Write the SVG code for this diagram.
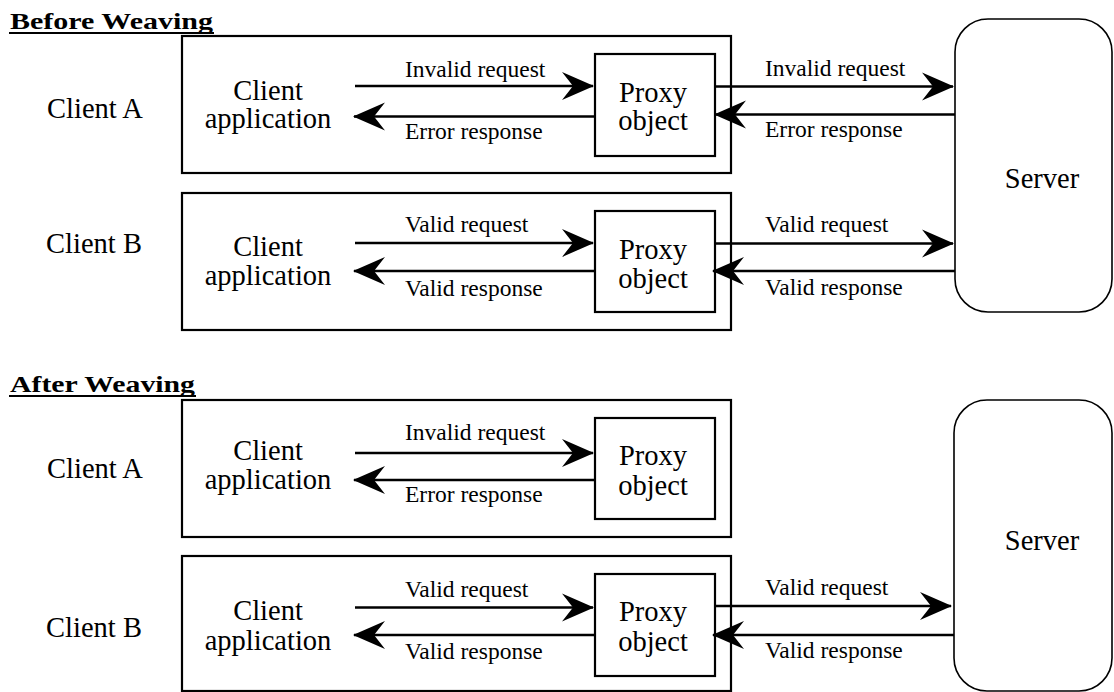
<svg xmlns="http://www.w3.org/2000/svg" width="1114" height="692" viewBox="0 0 1114 692">
<defs>
<style>
.box{fill:#fff;stroke:#000;stroke-width:2.2}
.srv{fill:#fff;stroke:#000;stroke-width:1.6}
.t{font-size:28.5px;fill:#000;text-anchor:middle}
.l{font-size:23.5px;fill:#000}
.h{font-size:24px;font-weight:bold;fill:#000}
.c{stroke:#000;stroke-width:2.6;fill:none;marker-end:url(#ah)}
</style>
<marker id="ah" markerUnits="userSpaceOnUse" viewBox="-32 -15 33 30" refX="0" refY="0" markerWidth="33" markerHeight="30" orient="auto">
<path d="M1,0 L-31,-14 L-20,0 L-31,14 Z" fill="#000"/>
</marker>
</defs>
<rect width="1114" height="692" fill="#fff"/>
<g font-family="'Liberation Serif', 'Times New Roman', Times, serif">
<g id="title-before">
<text class="h" x="10" y="29" textLength="203" lengthAdjust="spacingAndGlyphs">Before Weaving</text>
<line x1="9" y1="33" x2="214" y2="33" stroke="#000" stroke-width="2"/>
</g>
<g id="title-after">
<text class="h" x="10" y="392" textLength="185" lengthAdjust="spacingAndGlyphs">After Weaving</text>
<line x1="9" y1="396" x2="196" y2="396" stroke="#000" stroke-width="2"/>
</g>

<g id="before-clientA">
<text class="t" x="95" y="118">Client A</text>
<rect class="box" x="182" y="36" width="549" height="137"/>
<text class="t" x="268" y="100">Client</text>
<text class="t" x="268" y="128">application</text>
</g>
<g id="before-proxyA">
<rect class="box" x="595" y="54" width="120" height="102"/>
<text class="t" x="653" y="102">Proxy</text>
<text class="t" x="653" y="130">object</text>
</g>
<g id="before-clientB">
<text class="t" x="94" y="253">Client B</text>
<rect class="box" x="182" y="193" width="549" height="137"/>
<text class="t" x="268" y="256">Client</text>
<text class="t" x="268" y="285">application</text>
</g>
<g id="before-proxyB">
<rect class="box" x="595" y="211" width="120" height="101"/>
<text class="t" x="653" y="259">Proxy</text>
<text class="t" x="653" y="288">object</text>
</g>
<g id="before-server">
<rect class="srv" x="955" y="19" width="157" height="293" rx="33" ry="33"/>
<text class="t" x="1042" y="188">Server</text>
</g>

<g id="after-clientA">
<text class="t" x="95" y="478">Client A</text>
<rect class="box" x="182" y="400" width="549" height="137"/>
<text class="t" x="268" y="460">Client</text>
<text class="t" x="268" y="489">application</text>
</g>
<g id="after-proxyA">
<rect class="box" x="595" y="418" width="120" height="101"/>
<text class="t" x="653" y="465">Proxy</text>
<text class="t" x="653" y="495">object</text>
</g>
<g id="after-clientB">
<text class="t" x="94" y="637">Client B</text>
<rect class="box" x="182" y="556" width="549" height="135"/>
<text class="t" x="268" y="620">Client</text>
<text class="t" x="268" y="650">application</text>
</g>
<g id="after-proxyB">
<rect class="box" x="595" y="574" width="120" height="102"/>
<text class="t" x="653" y="621">Proxy</text>
<text class="t" x="653" y="651">object</text>
</g>
<g id="after-server">
<rect class="srv" x="954" y="400" width="158" height="291" rx="33" ry="33"/>
<text class="t" x="1042" y="550">Server</text>
</g>

<g id="connectors">
<line class="c" x1="355" y1="86" x2="593" y2="86"/>
<line class="c" x1="595" y1="116.5" x2="354" y2="116.5"/>
<line class="c" x1="715" y1="86.5" x2="953" y2="86.5"/>
<line class="c" x1="955" y1="114.5" x2="715" y2="114.5"/>
<line class="c" x1="355" y1="243" x2="593" y2="243"/>
<line class="c" x1="595" y1="271" x2="354" y2="271"/>
<line class="c" x1="715" y1="243.5" x2="953" y2="243.5"/>
<line class="c" x1="955" y1="271" x2="713" y2="271"/>
<line class="c" x1="355" y1="453" x2="593" y2="453"/>
<line class="c" x1="595" y1="480" x2="354" y2="480"/>
<line class="c" x1="355" y1="607.5" x2="593" y2="607.5"/>
<line class="c" x1="595" y1="635" x2="354" y2="635"/>
<line class="c" x1="715" y1="606" x2="951" y2="606"/>
<line class="c" x1="954" y1="635" x2="713" y2="635"/>
</g>

<g id="connector-labels">
<text class="l" x="405" y="77">Invalid request</text>
<text class="l" x="405" y="139">Error response</text>
<text class="l" x="765" y="76">Invalid request</text>
<text class="l" x="765" y="137">Error response</text>
<text class="l" x="405" y="232">Valid request</text>
<text class="l" x="405" y="296">Valid response</text>
<text class="l" x="765" y="232">Valid request</text>
<text class="l" x="765" y="295">Valid response</text>
<text class="l" x="405" y="440">Invalid request</text>
<text class="l" x="405" y="502">Error response</text>
<text class="l" x="405" y="597">Valid request</text>
<text class="l" x="405" y="659">Valid response</text>
<text class="l" x="765" y="595">Valid request</text>
<text class="l" x="765" y="658">Valid response</text>
</g>
</g>
</svg>
